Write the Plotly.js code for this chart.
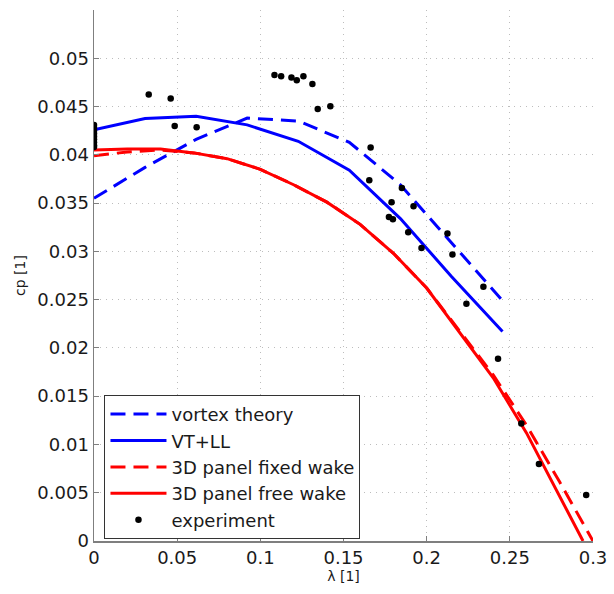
<!DOCTYPE html>
<html>
<head>
<meta charset="utf-8">
<script src="https://cdn.plot.ly/plotly-3.0.1.min.js"></script>
<style>html,body{margin:0;padding:0;background:#fff}#plot{width:614px;height:594px}</style>
</head>
<body>
<div id="plot"></div>
<script>
// lambda grid of the vortex-theory models
var vtLambda = [0, 0.0307, 0.0614, 0.0921, 0.1228, 0.1535, 0.1842, 0.2149, 0.2456];
var vortexTheory = [0.0355, 0.0387, 0.0416, 0.0438, 0.0435, 0.0413, 0.0369, 0.0309, 0.0249];
var vtLL = [0.0426, 0.04375, 0.0440, 0.0431, 0.0414, 0.0384, 0.0334, 0.0274, 0.0217];

// 3D panel results
var panelLambda = [0, 0.02, 0.04, 0.06, 0.08, 0.10, 0.12, 0.14, 0.16, 0.18, 0.20, 0.22, 0.24, 0.26, 0.28, 0.294];
var panelFree = [0.0405, 0.0406, 0.0406, 0.0402, 0.0396, 0.0385, 0.0369, 0.0351, 0.0328, 0.0298, 0.0262, 0.0216, 0.0169, 0.0112, 0.0046, 0.0];
var panelFixedLambda = [0, 0.02, 0.04, 0.06, 0.08, 0.10, 0.12, 0.14, 0.16, 0.18, 0.20, 0.22, 0.24, 0.26, 0.28, 0.30];
var panelFixed = [0.0399, 0.0403, 0.0405, 0.0402, 0.0396, 0.0385, 0.0369, 0.0351, 0.0328, 0.0298, 0.0262, 0.0217, 0.0172, 0.0120, 0.0061, 0.0];

// experiment
var expLambda = [0, 0, 0, 0, 0, 0, 0, 0, 0,
  0.0329, 0.0461, 0.0485, 0.0617, 0.1085, 0.1125, 0.1187, 0.1219, 0.1259, 0.1313, 0.1345, 0.1421,
  0.1663, 0.1655, 0.1851, 0.1789, 0.1921, 0.1773, 0.1797, 0.1889, 0.1969, 0.2125, 0.2155, 0.2341, 0.2239,
  0.2429, 0.2569, 0.2675, 0.2959];
var expCp = [0.0431, 0.0428, 0.0425, 0.0422, 0.0419, 0.0416, 0.0413, 0.0410, 0.0408,
  0.04624, 0.04583, 0.04299, 0.04286, 0.04827, 0.04814, 0.0480, 0.04772, 0.04814, 0.04734, 0.04475, 0.04503,
  0.04075, 0.03737, 0.03657, 0.0351, 0.03468, 0.03357, 0.03333, 0.03199, 0.03036, 0.03185, 0.02968, 0.02633, 0.02457,
  0.01887, 0.01218, 0.00797, 0.00476];

var xTicks = [0, 0.05, 0.1, 0.15, 0.2, 0.25, 0.3];
var xTickText = ['0', '0.05', '0.1', '0.15', '0.2', '0.25', '0.3'];
var yTicks = [0, 0.005, 0.01, 0.015, 0.02, 0.025, 0.03, 0.035, 0.04, 0.045, 0.05];
var yTickText = ['0', '0.005', '0.01', '0.015', '0.02', '0.025', '0.03', '0.035', '0.04', '0.045', '0.05'];

var BLUE = '#0000ff', RED = '#ff0000';
var FONT = 'DejaVu Sans, Arial, sans-serif';
var traces = [
  {x: vtLambda, y: vortexTheory, name: 'vortex theory', mode: 'lines', line: {color: BLUE, width: 3, dash: '15px,8px'}},
  {x: vtLambda, y: vtLL, name: 'VT+LL', mode: 'lines', line: {color: BLUE, width: 3}},
  {x: panelFixedLambda, y: panelFixed, name: '3D panel fixed wake', mode: 'lines', line: {color: RED, width: 3, dash: '15px,8px'}},
  {x: panelLambda, y: panelFree, name: '3D panel free wake', mode: 'lines', line: {color: RED, width: 3}},
  {x: expLambda, y: expCp, name: 'experiment', mode: 'markers', marker: {color: '#000', size: 6.5}}
];

var axisCommon = {
  showline: true, linecolor: '#7f7f7f', linewidth: 1.5, mirror: false,
  ticks: 'inside', ticklen: 5, tickcolor: '#7f7f7f', tickwidth: 1,
  showgrid: true, gridcolor: '#bdbdbd', griddash: '1px,5px', gridwidth: 1,
  zeroline: false,
  tickfont: {family: FONT, size: 18, color: '#1a1a1a'}
};

var layout = {
  width: 614, height: 594,
  margin: {l: 93.5, r: 20.7, t: 10, b: 53},
  paper_bgcolor: '#fff', plot_bgcolor: '#fff',
  showlegend: true,
  xaxis: Object.assign({}, axisCommon, {
    range: [0, 0.3], tickvals: xTicks, ticktext: xTickText,
    title: {text: 'λ [1]', font: {family: FONT, size: 14, color: '#1a1a1a'}, standoff: 4}
  }),
  yaxis: Object.assign({}, axisCommon, {
    range: [0, 0.055], tickvals: yTicks, ticktext: yTickText,
    title: {text: 'cp [1]', font: {family: FONT, size: 14, color: '#1a1a1a'}, standoff: 8}
  }),
  legend: {
    x: 0.021, y: 0.004, xanchor: 'left', yanchor: 'bottom',
    bgcolor: '#fff', bordercolor: '#333', borderwidth: 1,
    font: {family: FONT, size: 18, color: '#1a1a1a'},
    tracegroupgap: 0, itemwidth: 56
  }
};

Plotly.newPlot('plot', traces, layout, {displayModeBar: false, staticPlot: true});
</script>
</body>
</html>
